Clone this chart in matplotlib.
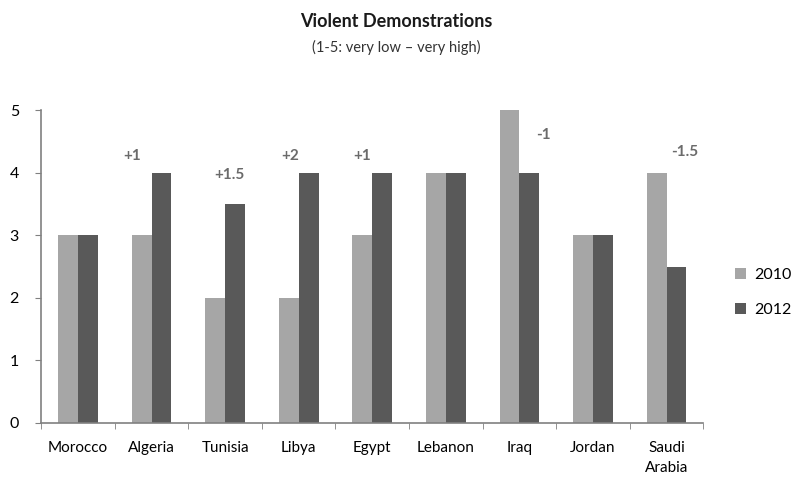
import matplotlib
matplotlib.use("Agg")
import matplotlib.pyplot as plt
import numpy as np

categories = ["Morocco", "Algeria", "Tunisia", "Libya", "Egypt", "Lebanon", "Iraq", "Jordan", "Saudi\nArabia"]
v2010 = [3, 3, 2, 2, 3, 4, 5, 3, 4]
v2012 = [3, 4, 3.5, 4, 4, 4, 4, 3, 2.5]
ann_labels = ["+1", "+1.5", "+2", "+1", "-1", "-1.5"]
ann_cat = [1, 2, 3, 4, 6, 8]
ann_dx = [-0.26, 0.06, -0.12, -0.14, 0.33, 0.25]
ann_y = [4.27, 3.96, 4.27, 4.27, 4.6, 4.33]

plt.rcParams['font.family'] = ['Lato', 'DejaVu Sans']

fig = plt.figure(figsize=(7.92, 4.79), dpi=100)
ax = fig.add_axes([0.052, 0.117, 0.836, 0.653])

x = np.arange(len(categories))
w = 0.27
c10 = "#A6A6A6"
c12 = "#595959"
ax.bar(x - w/2, v2010, w, color=c10, label="2010")
ax.bar(x + w/2, v2012, w, color=c12, label="2012")

ax.set_xlim(-0.5, len(categories) - 0.5)
ax.set_ylim(0, 5)
ax.set_yticks(range(6))
ax.tick_params(axis='y', labelsize=11.5, length=4, color="#808080", pad=12)
ax.set_xticks(x)
ax.set_xticklabels(categories, fontsize=11, linespacing=1.55)
ax.set_xticks(np.arange(-0.5, len(categories)), minor=True)
ax.tick_params(axis='x', which='major', length=0, pad=13)
ax.tick_params(axis='x', which='minor', length=4, color="#808080")
for s in ["top", "right"]:
    ax.spines[s].set_visible(False)
for s in ["left", "bottom"]:
    ax.spines[s].set_color("#808080")
    ax.spines[s].set_linewidth(1.2)

for lab, ci, dx, yy in zip(ann_labels, ann_cat, ann_dx, ann_y):
    ax.text(ci + dx, yy, lab, ha="center", va="center", fontsize=11,
            fontweight="bold", color="#6b6b6b")

fig.text(0.5, 0.955, "Violent Demonstrations", ha="center", va="center",
         fontsize=13, fontweight="bold", color="#1a1a1a")
fig.text(0.5, 0.9, "(1-5: very low \u2013 very high)", ha="center", va="center",
         fontsize=10.5, color="#333333")

leg = fig.legend(handles=ax.containers, labels=["2010", "2012"],
                 loc="center left", bbox_to_anchor=(0.91, 0.39), frameon=False,
                 fontsize=11.5, handlelength=0.7, handleheight=0.7,
                 labelspacing=1.3, handletextpad=0.5)

fig.savefig("out.png", dpi=100)
